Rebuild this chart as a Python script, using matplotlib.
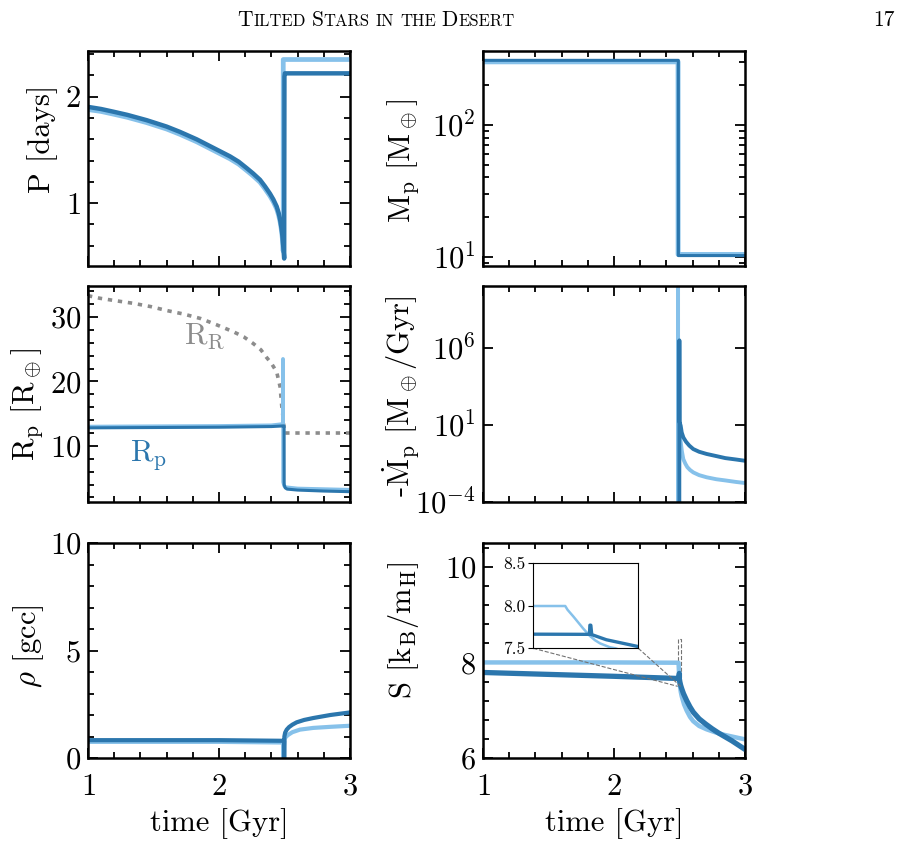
import numpy as np
import matplotlib
matplotlib.use("Agg")
import matplotlib.pyplot as plt
from matplotlib.ticker import MultipleLocator, FixedLocator, LogLocator, NullLocator, NullFormatter
from mpl_toolkits.axes_grid1.inset_locator import mark_inset

plt.rcParams['font.family'] = 'serif'
plt.rcParams['font.serif'] = ['cmr10']
plt.rcParams['mathtext.fontset'] = 'cm'
plt.rcParams['axes.unicode_minus'] = False
plt.rcParams['axes.formatter.use_mathtext'] = True

DARK = '#2b76ad'
LIGHT = '#86c1ea'
GRAY = '#8c8c8c'

# ---------------- data ----------------
# Period
t_P_dark = [1.0, 1.1, 1.193, 1.3, 1.448, 1.6, 1.702, 1.83, 1.957, 2.084, 2.15, 2.211, 2.26, 2.313,
            2.35, 2.389, 2.415, 2.44, 2.455, 2.466, 2.474, 2.481, 2.487, 2.491, 2.494, 2.496, 2.4975,
            2.4995, 2.503, 2.52, 3.0]
P_dark = [1.905, 1.885, 1.86, 1.83, 1.78, 1.72, 1.67, 1.60, 1.52, 1.44, 1.39, 1.33, 1.28, 1.22,
          1.16, 1.09, 1.035, 0.97, 0.91, 0.85, 0.79, 0.73, 0.65, 0.59, 0.54, 0.51, 0.48,
          2.19, 2.22, 2.22, 2.22]
t_P_light = [1.0, 1.1, 1.193, 1.3, 1.448, 1.6, 1.702, 1.83, 1.957, 2.084, 2.15, 2.211, 2.26, 2.313,
             2.35, 2.389, 2.415, 2.44, 2.455, 2.466, 2.474, 2.481, 2.485, 2.488, 2.490, 2.4905, 3.0]
P_light = [1.88, 1.862, 1.837, 1.807, 1.757, 1.697, 1.647, 1.577, 1.497, 1.417, 1.367, 1.307, 1.257, 1.197,
           1.137, 1.067, 1.012, 0.947, 0.887, 0.827, 0.767, 0.70, 0.65, 0.60, 0.55, 2.35, 2.35]

# Planet mass
t_M_dark = [1.0, 2.491, 2.4915, 3.0]
M_dark = [310, 310, 10.2, 10.2]
t_M_light = [1.0, 2.489, 2.4895, 3.0]
M_light = [302, 302, 10.4, 10.4]

# Planet radius and Roche radius
t_R_dark = [1.0, 2.0, 2.4, 2.49, 2.497, 2.4975, 2.505, 2.52, 2.6, 2.8, 3.0]
R_dark = [12.8, 12.9, 13.0, 13.1, 13.1, 4.0, 3.5, 3.3, 3.15, 3.0, 2.9]
t_R_light = [1.0, 2.0, 2.4, 2.488, 2.4885, 2.4895, 2.497, 2.51, 2.6, 2.8, 3.0]
R_light = [13.0, 13.1, 13.2, 13.4, 23.5, 4.4, 3.8, 3.6, 3.4, 3.3, 3.2]
t_RR = [1.0, 1.09, 1.2, 1.35, 1.48, 1.60, 1.73, 1.86, 1.98, 2.11, 2.19, 2.26, 2.32, 2.36, 2.40, 2.44,
        2.466, 2.479, 2.489, 2.496, 2.5, 3.0]
R_RR = [33.3, 32.9, 32.55, 32.1, 31.6, 31.0, 30.45, 29.75, 28.8, 27.7, 26.9, 25.9, 24.9, 23.8, 22.8, 21.5,
        19.2, 16.2, 14.4, 12.9, 12.0, 12.0]

# Mass loss rate
t_Md_dark = [2.4985, 2.499, 2.5, 2.509, 2.517, 2.53, 2.55, 2.575, 2.605, 2.65, 2.707, 2.78, 2.85, 2.93, 3.0]
Md_dark = [1e-6, 3e6, 16.0, 8.7, 3.2, 1.5, 0.8, 0.45, 0.27, 0.18, 0.13, 0.095, 0.07, 0.057, 0.047]
t_Md_light = [2.4885, 2.489, 2.4895, 2.496, 2.503, 2.509, 2.518, 2.529, 2.545, 2.56, 2.58, 2.605, 2.65,
              2.707, 2.78, 2.85, 2.93, 3.0]
Md_light = [1e-6, 1e12, 1e-6, 3.0, 1.6, 0.8, 0.2, 0.06, 0.03, 0.018, 0.012, 0.0083, 0.0055,
            0.004, 0.003, 0.0025, 0.002, 0.0017]

# Density
t_rho_dark = [1.0, 2.0, 2.497, 2.4975, 2.499, 2.505, 2.517, 2.535, 2.56, 2.593, 2.65, 2.72, 2.85, 3.0]
rho_dark = [0.83, 0.83, 0.80, 0.0, 1.0, 1.18, 1.32, 1.44, 1.55, 1.66, 1.77, 1.86, 2.0, 2.12]
t_rho_light = [1.0, 2.0, 2.489, 2.4895, 2.499, 2.51, 2.529, 2.56, 2.618, 2.72, 2.85, 3.0]
rho_light = [0.75, 0.75, 0.72, 0.0, 0.85, 0.98, 1.08, 1.2, 1.32, 1.40, 1.45, 1.50]

# Entropy
t_S_dark = [1.0, 1.5, 2.0, 2.486, 2.4983, 2.4984, 2.4986, 2.4988, 2.502, 2.509, 2.517, 2.53, 2.555,
            2.58, 2.605, 2.65, 2.7, 2.75, 2.8, 2.9, 3.0]
S_dark = [7.79, 7.75, 7.71, 7.665, 7.663, 7.77, 7.77, 7.66, 7.60, 7.52, 7.45, 7.35, 7.20,
          7.07, 6.96, 6.82, 6.71, 6.61, 6.52, 6.36, 6.18]
t_S_light = [1.0, 2.0, 2.493, 2.4935, 2.4948, 2.4969, 2.4984, 2.4995, 2.5006, 2.5028, 2.504, 2.51,
             2.517, 2.535, 2.555, 2.58, 2.605, 2.65, 2.707, 2.77, 2.834, 2.9, 3.0]
S_light = [8.0, 8.0, 7.994, 7.95, 7.87, 7.733, 7.644, 7.595, 7.558, 7.512, 7.50, 7.38,
           7.29, 7.12, 6.99, 6.86, 6.77, 6.67, 6.60, 6.54, 6.49, 6.45, 6.39]

xticks = [1, 2, 3]

# ---------------- figure ----------------
fig = plt.figure(figsize=(8.98, 8.43), dpi=100)

W = 262 / 898.0
lefts = [88 / 898.0, 483 / 898.0]
rows = [(51, 266), (286, 502), (543, 758)]


def make_ax(col, row):
    top, bot = rows[row]
    ax = fig.add_axes([lefts[col], 1 - bot / 843.0, W, (bot - top) / 843.0])
    ax.set_xlim(1, 3)
    ax.xaxis.set_major_locator(FixedLocator(xticks))
    ax.xaxis.set_minor_locator(MultipleLocator(0.2))
    ax.tick_params(which='both', direction='in', top=True, right=True, width=1.3)
    ax.tick_params(which='major', length=7.5)
    ax.tick_params(which='minor', length=4)
    ax.tick_params(axis='x', labelsize=22, pad=11, labelbottom=(row == 2))
    ax.tick_params(axis='y', labelsize=22, pad=5)
    for s in ax.spines.values():
        s.set_linewidth(1.8)
    return ax


lw = dict(solid_capstyle='round', solid_joinstyle='round')

# Panel 1: Period
ax1 = make_ax(0, 0)
ax1.plot(t_P_light, P_light, color=LIGHT, lw=3.4, **lw)
ax1.plot(t_P_dark, P_dark, color=DARK, lw=3.2, **lw)
ax1.set_ylim(0.41, 2.43)
ax1.yaxis.set_major_locator(MultipleLocator(1))
ax1.yaxis.set_minor_locator(MultipleLocator(0.2))
ax1.set_ylabel('P [days]', fontsize=22)
ax1.yaxis.set_label_coords(-0.115, 0.59)

# Panel 2: mass
ax2 = make_ax(1, 0)
ax2.set_yscale('log')
ax2.plot(t_M_light, M_light, color=LIGHT, lw=3.5, **lw)
ax2.plot(t_M_dark, M_dark, color=DARK, lw=2.2, **lw)
ax2.set_ylim(8.5, 365)
ax2.yaxis.set_major_locator(LogLocator(base=10))
ax2.yaxis.set_minor_locator(LogLocator(base=10, subs=np.arange(2, 10)))
ax2.yaxis.set_minor_formatter(NullFormatter())
ax2.set_ylabel(r'M$_\mathrm{p}$ [M$_\oplus$]', fontsize=22)
ax2.yaxis.set_label_coords(-0.237, 0.49)

# Panel 3: radius
ax3 = make_ax(0, 1)
ax3.plot(t_RR, R_RR, color=GRAY, lw=2.6, dashes=(1.2, 1.6), dash_capstyle='butt')
ax3.plot(t_R_light, R_light, color=LIGHT, lw=2.6, **lw)
ax3.plot(t_R_dark, R_dark, color=DARK, lw=2.2, **lw)
ax3.set_ylim(1.3, 34.8)
ax3.yaxis.set_major_locator(MultipleLocator(10))
ax3.yaxis.set_minor_locator(MultipleLocator(2))
ax3.set_ylabel(r'R$_\mathrm{p}$ [R$_\oplus$]', fontsize=22)
ax3.yaxis.set_label_coords(-0.165, 0.45)
ax3.text(1.89, 27.0, r'R$_\mathrm{R}$', color=GRAY, fontsize=22, ha='center', va='center')
ax3.text(1.46, 8.6, r'R$_\mathrm{p}$', color=DARK, fontsize=22, ha='center', va='center')

# Panel 4: mass loss rate
ax4 = make_ax(1, 1)
ax4.set_yscale('log')
ax4.plot(t_Md_light, Md_light, color=LIGHT, lw=2.8, **lw)
ax4.plot(t_Md_dark, Md_dark, color=DARK, lw=2.8, **lw)
ax4.set_ylim(1e-4, 1e10)
ax4.yaxis.set_major_locator(FixedLocator([1e-4, 1e1, 1e6]))
ax4.yaxis.set_minor_locator(NullLocator())
ax4.set_ylabel(r'-$\dot{\mathrm{M}}_\mathrm{p}$ [M$_\oplus$/Gyr]', fontsize=22)
ax4.yaxis.set_label_coords(-0.237, 0.49)

# Panel 5: density
ax5 = make_ax(0, 2)
ax5.plot(t_rho_light, rho_light, color=LIGHT, lw=3.0, **lw)
ax5.plot(t_rho_dark, rho_dark, color=DARK, lw=3.0, **lw)
ax5.set_ylim(0, 10)
ax5.yaxis.set_major_locator(MultipleLocator(5))
ax5.yaxis.set_minor_locator(MultipleLocator(1))
ax5.set_ylabel(r'$\rho$ [gcc]', fontsize=22)
ax5.yaxis.set_label_coords(-0.16, 0.52)
ax5.set_xlabel('time [Gyr]', fontsize=22)
ax5.xaxis.set_label_coords(0.5, -0.235)

# Panel 6: entropy
ax6 = make_ax(1, 2)
ax6.plot(t_S_light, S_light, color=LIGHT, lw=3.2, **lw)
ax6.plot(t_S_dark, S_dark, color=DARK, lw=3.8, **lw)
ax6.set_ylim(6, 10.5)
ax6.yaxis.set_major_locator(MultipleLocator(2))
ax6.yaxis.set_minor_locator(MultipleLocator(0.4))
ax6.set_ylabel(r'S [k$_\mathrm{B}$/m$_\mathrm{H}$]', fontsize=22)
ax6.yaxis.set_label_coords(-0.237, 0.595)
ax6.set_xlabel('time [Gyr]', fontsize=22)
ax6.xaxis.set_label_coords(0.5, -0.235)

# inset
axins = fig.add_axes([533.3 / 898, 1 - 648.3 / 843, 105 / 898, 85.6 / 843])
axins.plot(t_S_light, S_light, color=LIGHT, lw=1.8, **lw)
axins.plot(t_S_dark, S_dark, color=DARK, lw=2.4, **lw)
axins.set_xlim(2.486, 2.509)
axins.set_ylim(7.5, 8.5)
axins.set_xticks([])
axins.yaxis.set_major_locator(FixedLocator([7.5, 8.0, 8.5]))
axins.set_yticklabels(['7.5', '8.0', '8.5'])
axins.tick_params(axis='y', labelsize=12.5, length=3.5, width=0.8, direction='out', pad=2)
for s in axins.spines.values():
    s.set_linewidth(0.8)
mark_inset(ax6, axins, loc1=3, loc2=4, fc='none', ec='0.45', ls='--', lw=0.8)

# ---------------- header ----------------
renderer = fig.canvas.get_renderer()
BIG, SMALL = 15.5, 12.0
pieces = [('T', BIG), ('ILTED', SMALL), (' ', 0), ('S', BIG), ('TARS', SMALL), (' ', 0),
          ('IN', SMALL), (' ', 0), ('THE', SMALL), (' ', 0), ('D', BIG), ('ESERT', SMALL)]
ybase = 1 - 26 / 843.0
gap = 6.0
objs = []
total = 0.0
for s, sz in pieces:
    if s == ' ':
        objs.append((None, gap))
        total += gap
        continue
    t = fig.text(0, ybase, s, fontsize=sz, va='baseline', ha='left')
    w = t.get_window_extent(renderer).width
    objs.append((t, w))
    total += w
x = 376 - total / 2
for t, w in objs:
    if t is not None:
        t.set_x(x / 898.0)
    x += w
fig.text(895 / 898.0, ybase, '17', fontsize=15.5, va='baseline', ha='right')

fig.savefig('out.png', dpi=100)
